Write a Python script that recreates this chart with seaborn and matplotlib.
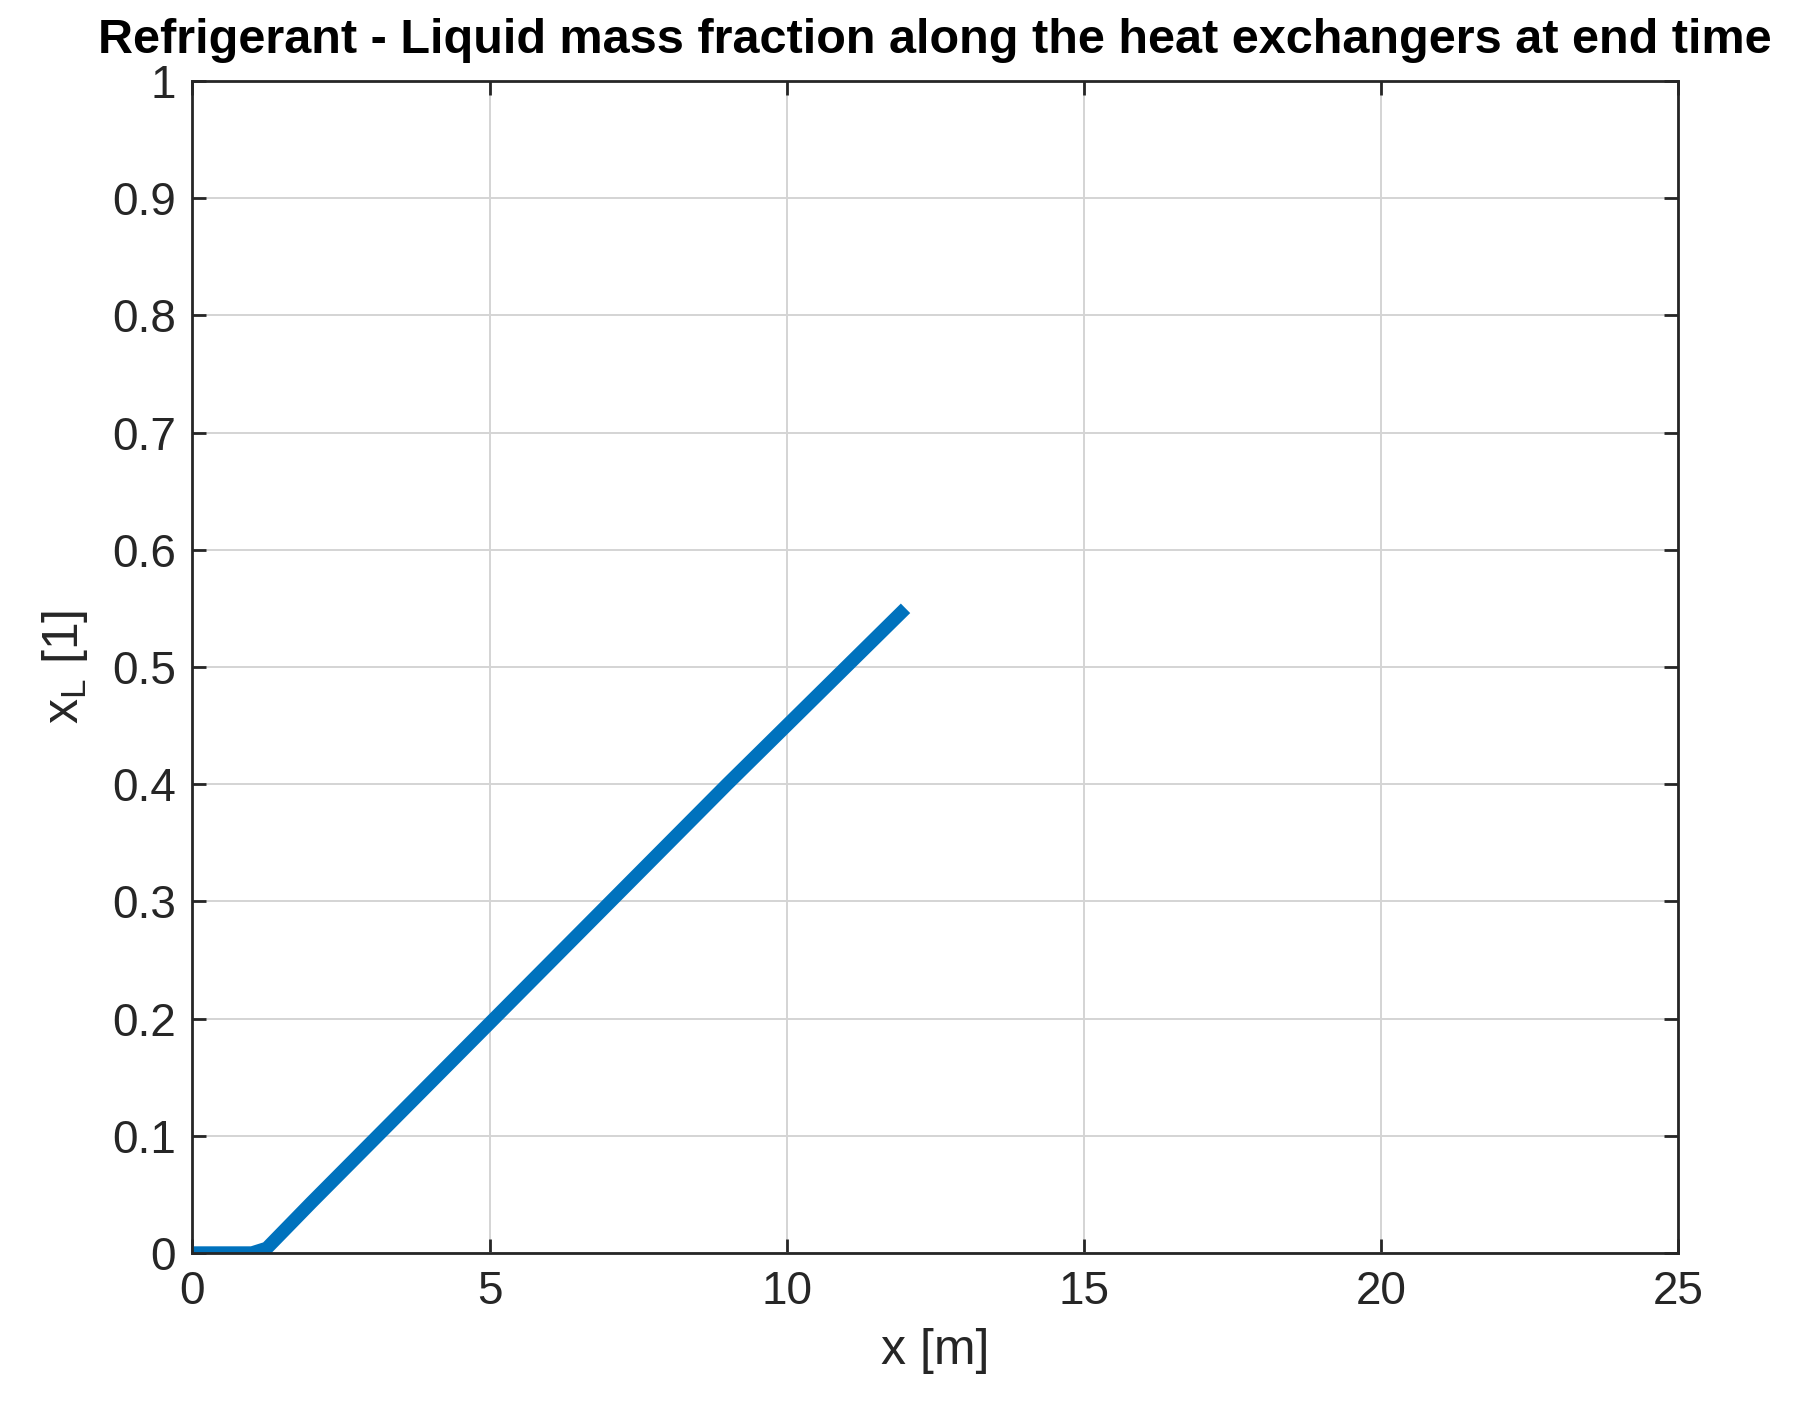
import matplotlib
matplotlib.use("Agg")
import matplotlib.pyplot as plt
import seaborn as sns
import pandas as pd

# Data
x_pos = [0.0, 0.5, 1.0, 1.25, 2.0, 3.0, 4.0, 5.0, 6.0, 7.0, 8.0, 9.0, 10.0, 11.0, 12.0]
x_liq = [0.0, 0.0, 0.0, 0.004, 0.043, 0.094, 0.145, 0.196, 0.247, 0.298, 0.349, 0.400, 0.450, 0.500, 0.550]

x_ticks = [0, 5, 10, 15, 20, 25]
y_ticks = [0, 0.1, 0.2, 0.3, 0.4, 0.5, 0.6, 0.7, 0.8, 0.9, 1]
y_tick_labels = ["0", "0.1", "0.2", "0.3", "0.4", "0.5", "0.6", "0.7", "0.8", "0.9", "1"]

df = pd.DataFrame({"x": x_pos, "xL": x_liq})

sns.set_theme(style="white")
plt.rcParams["font.family"] = ["Liberation Sans", "DejaVu Sans"]
plt.rcParams["mathtext.fontset"] = "custom"
plt.rcParams["mathtext.rm"] = "Liberation Sans"
plt.rcParams["mathtext.it"] = "Liberation Sans"

fig = plt.figure(figsize=(9.08, 7.095), dpi=200)
ax = fig.add_axes([0.106, 0.117, 0.818, 0.826])

sns.lineplot(data=df, x="x", y="xL", ax=ax, color="#0072BD", linewidth=4.8,
             solid_capstyle="butt", solid_joinstyle="miter")

ax.set_xlim(0, 25)
ax.set_ylim(0, 1)
ax.set_xticks(x_ticks)
ax.set_xticklabels([str(t) for t in x_ticks])
ax.set_yticks(y_ticks)
ax.set_yticklabels(y_tick_labels)

ax.grid(True, color="#d4d4d4", linewidth=0.7)
ax.set_axisbelow(True)

tc = "#262626"
for s in ax.spines.values():
    s.set_color(tc)
    s.set_linewidth(1.0)
ax.tick_params(axis="both", direction="in", length=5, width=1.0, color=tc,
               labelcolor=tc, labelsize=16.5, top=True, right=True,
               bottom=True, left=True, pad=6)

ax.set_xlabel("x [m]", fontsize=18, color=tc, labelpad=5)
ax.set_ylabel(r"x$_\mathrm{L}$ [1]", fontsize=18, color=tc, labelpad=8)
ax.set_title("Refrigerant - Liquid mass fraction along the heat exchangers at end time",
             fontsize=17.5, fontweight="bold", color="black", pad=10)

fig.savefig("out.png", dpi=200, facecolor="white")
